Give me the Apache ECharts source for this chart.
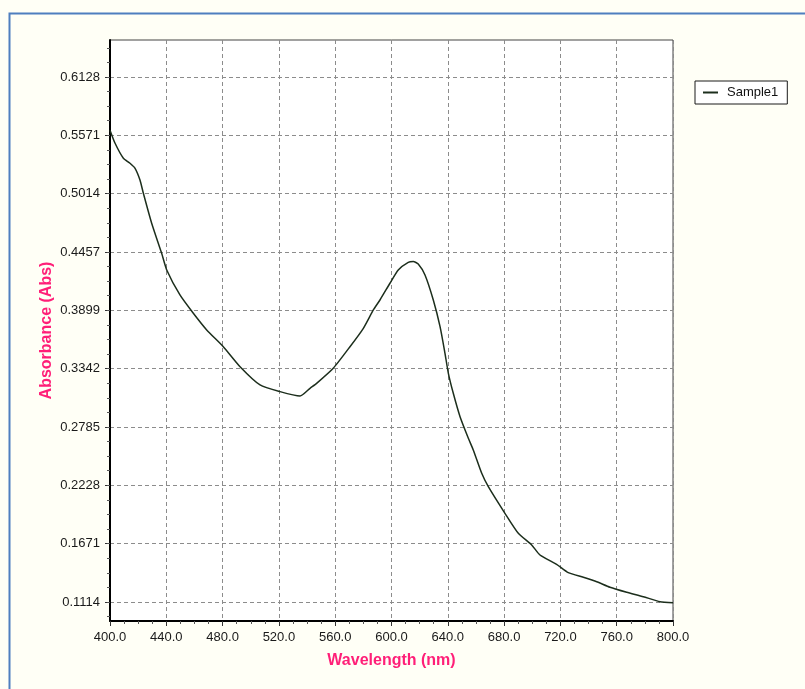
<!DOCTYPE html>
<html>
<head>
<meta charset="utf-8">
<title>Absorbance spectrum</title>
<script src="https://cdn.jsdelivr.net/npm/echarts@6/dist/echarts.min.js"></script>
<style>
  html, body { margin: 0; padding: 0; background: #fffff6; overflow: hidden; }
  #chart { width: 805px; height: 689px; }
</style>
</head>
<body>
<div id="chart"></div>
<script>
// wavelength (nm) and absorbance
const wavelengths = [
    400, 403.6, 409.5, 414.2, 417.8, 421.3, 423.7, 429.6, 436.7, 440.3,
    449.7, 459.2, 468.7, 480.5, 492.4, 506.6, 520.8, 535, 542.1, 546.8,
    558.6, 570.5, 580, 587.1, 591.8, 598.9, 604.8, 611.9, 615.5, 619,
    623.8, 629.7, 634.5, 638, 640.4, 643.9, 648.7, 654.6, 658.1, 664.1,
    668.8, 680.6, 690.1, 699.6, 705.5, 717.3, 725.6, 736.3, 745.8, 755.2,
    767.1, 778.9, 790.8, 800
];
const absorbance = [
    0.562, 0.5495, 0.5352, 0.5304, 0.5256, 0.5144, 0.5017, 0.4731, 0.4444, 0.4285,
    0.4046, 0.3871, 0.3712, 0.3552, 0.3361, 0.3187, 0.3123, 0.3081, 0.3155, 0.3202,
    0.3346, 0.3552, 0.3728, 0.3903, 0.3998, 0.4158, 0.4285, 0.4358, 0.4365, 0.4342,
    0.4237, 0.3998, 0.3744, 0.3489, 0.3298, 0.3107, 0.2884, 0.2678, 0.2566, 0.2343,
    0.2215, 0.1961, 0.1770, 0.1659, 0.1563, 0.1474, 0.1394, 0.1350, 0.1308, 0.1255,
    0.1207, 0.1165, 0.1117, 0.1107
];
const yTicks = [0.1114, 0.1671, 0.2228, 0.2785, 0.3342, 0.3899, 0.4457, 0.5014, 0.5571, 0.6128];
const seriesName = 'Sample1';

const Y_MIN = 0.09326, Y_MAX = 0.6481;
const FONT = 'Liberation Sans, Arial, sans-serif';
const PINK = '#ff1f78';
const LINE = '#1c2e1c';

// minor ticks: 4 subdivisions per major step, carried past both ends
const step = (yTicks[yTicks.length - 1] - yTicks[0]) / (yTicks.length - 1);
const yMinor = [];
for (let v = yTicks[0] - step; v < Y_MAX; v += step / 4) {
    if (v > Y_MIN && v < Y_MAX) yMinor.push(+v.toFixed(5));
}

const chart = echarts.init(document.getElementById('chart'));

const option = {
    backgroundColor: '#fffff6',
    animation: false,
    graphic: [{
        type: 'rect',
        left: 7, top: 11,
        shape: { width: 900, height: 900 },
        style: { fill: 'none', stroke: '#4f7fbf', lineWidth: 2 },
        z: -1
    }],
    grid: {
        left: 110, right: 132, top: 40, bottom: 68,
        show: true,
        backgroundColor: '#ffffff',
        borderColor: '#444444',
        borderWidth: 1
    },
    legend: {
        left: 695, top: 81,
        data: [seriesName],
        icon: 'rect',
        itemWidth: 15, itemHeight: 2,
        padding: [5, 9, 5, 8],
        backgroundColor: '#ffffff',
        borderColor: '#1a1a1a',
        borderWidth: 1,
        borderRadius: 0,
        textStyle: { color: '#111', fontFamily: FONT, fontSize: 13, padding: [0, 0, 0, 4] }
    },
    xAxis: {
        type: 'value',
        min: 400, max: 800, interval: 40,
        name: 'Wavelength (nm)',
        nameLocation: 'middle',
        nameGap: 32,
        nameMoveOverlap: false,
        nameTextStyle: { color: PINK, fontFamily: FONT, fontSize: 16, fontWeight: 'bold' },
        axisLine: { show: true, onZero: false, lineStyle: { color: '#000', width: 2 } },
        axisTick: { show: true, length: 5, lineStyle: { color: '#333' } },
        minorTick: { show: true, splitNumber: 4, length: 3, lineStyle: { color: '#555' } },
        axisLabel: {
            color: '#1a1a1a', fontFamily: FONT, fontSize: 13, margin: 10,
            formatter: v => v.toFixed(1)
        },
        splitLine: { show: true, lineStyle: { color: '#8c8c8c', type: [4, 3], width: 1 } }
    },
    yAxis: [{
        type: 'value',
        min: Y_MIN, max: Y_MAX,
        name: 'Absorbance (Abs)',
        nameLocation: 'middle',
        nameGap: 55,
        nameMoveOverlap: false,
        nameTextStyle: { color: PINK, fontFamily: FONT, fontSize: 16, fontWeight: 'bold' },
        axisLine: { show: true, onZero: false, lineStyle: { color: '#000', width: 2 } },
        axisTick: { show: true, length: 5, customValues: yTicks, lineStyle: { color: '#333' } },
        axisLabel: {
            color: '#1a1a1a', fontFamily: FONT, fontSize: 13, margin: 10,
            customValues: yTicks,
            formatter: v => v.toFixed(4)
        },
        splitLine: { show: true, lineStyle: { color: '#8c8c8c', type: [4, 3], width: 1 } }
    }, {
        // minor ticks only
        type: 'value',
        position: 'left',
        min: Y_MIN, max: Y_MAX,
        axisLine: { show: false },
        axisTick: { show: true, length: 3, customValues: yMinor, lineStyle: { color: '#555' } },
        axisLabel: { show: false },
        splitLine: { show: false }
    }],
    series: [{
        name: seriesName,
        type: 'line',
        data: wavelengths.map((w, i) => [w, absorbance[i]]),
        symbol: 'none',
        smooth: 0.2,
        lineStyle: { color: LINE, width: 1.5 },
        itemStyle: { color: LINE }
    }]
};

chart.setOption(option);
</script>
</body>
</html>
